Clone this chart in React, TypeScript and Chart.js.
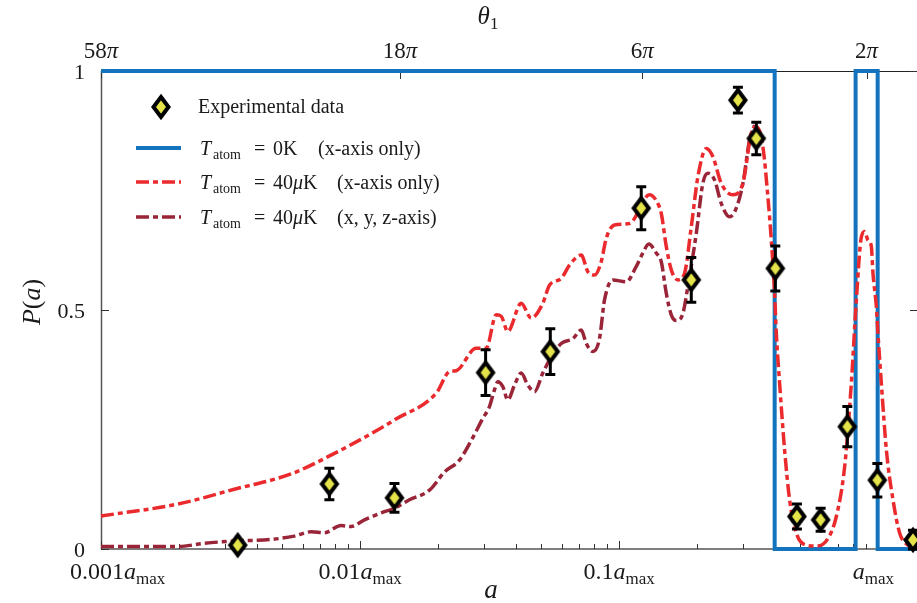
import React, { useEffect, useRef } from 'react';
import { Chart, registerables } from 'chart.js';
Chart.register(...registerables);

// ---------- data ----------
const expA = [0.00337, 0.00761, 0.01357, 0.0305, 0.0542, 0.1216, 0.1897, 0.2871, 0.3381, 0.4003, 0.4851, 0.5987, 0.7591, 0.9911, 1.36];
const expP = [0.008, 0.136, 0.107, 0.369, 0.413, 0.713, 0.563, 0.939, 0.859, 0.587, 0.068, 0.061, 0.256, 0.144, 0.019];
const expErr = [0.006, 0.033, 0.03, 0.048, 0.048, 0.045, 0.047, 0.027, 0.034, 0.047, 0.026, 0.024, 0.042, 0.035, 0.02];

const redA = [0.001, 0.00198, 0.00327, 0.00541, 0.00796, 0.01205, 0.01357, 0.01966, 0.02212, 0.02348, 0.02805, 0.03066, 0.03351, 0.03503, 0.03715, 0.04184, 0.04573, 0.0507, 0.05381, 0.05972, 0.06428, 0.07135, 0.07566, 0.08028, 0.08521, 0.08909, 0.09593, 0.1096, 0.1309, 0.1409, 0.1453, 0.1519, 0.1588, 0.1684, 0.1787, 0.1897, 0.2012, 0.2168, 0.2298, 0.2476, 0.2745, 0.3001, 0.3234, 0.3381, 0.3584, 0.3747, 0.3863, 0.3978, 0.4039, 0.4159, 0.4348, 0.4545, 0.4825, 0.5272, 0.5763, 0.6389, 0.6883, 0.7412, 0.7866, 0.8226, 0.86, 0.8855, 0.9118, 0.9397, 0.9533, 0.9825, 0.9965, 1.027, 1.074, 1.139, 1.209, 1.302, 1.406];
const redP = [0.069, 0.094, 0.125, 0.157, 0.2, 0.253, 0.27, 0.326, 0.371, 0.373, 0.42, 0.42, 0.49, 0.487, 0.455, 0.514, 0.483, 0.514, 0.552, 0.566, 0.594, 0.615, 0.58, 0.573, 0.601, 0.65, 0.678, 0.681, 0.741, 0.723, 0.702, 0.633, 0.584, 0.563, 0.577, 0.674, 0.779, 0.838, 0.821, 0.765, 0.741, 0.765, 0.87, 0.884, 0.842, 0.737, 0.646, 0.535, 0.451, 0.347, 0.207, 0.103, 0.033, 0.008, 0.006, 0.022, 0.068, 0.172, 0.347, 0.521, 0.653, 0.664, 0.646, 0.633, 0.577, 0.507, 0.451, 0.347, 0.207, 0.103, 0.033, 0.008, 0.003];

const darkA = [0.001, 0.00198, 0.002505, 0.003368, 0.004533, 0.005575, 0.006468, 0.007282, 0.008445, 0.009232, 0.01039, 0.01241, 0.01357, 0.0155, 0.01852, 0.02117, 0.02417, 0.0269, 0.02974, 0.03157, 0.033, 0.03399, 0.03553, 0.03715, 0.03943, 0.04184, 0.04437, 0.0471, 0.0507, 0.05381, 0.05972, 0.0662, 0.07135, 0.07459, 0.07909, 0.08392, 0.08774, 0.09446, 0.1064, 0.1163, 0.1233, 0.1301, 0.139, 0.1453, 0.1519, 0.1588, 0.1661, 0.1761, 0.184, 0.1983, 0.2102, 0.2199, 0.2333, 0.2476, 0.2667, 0.2829, 0.3001, 0.3185, 0.333];
const darkP = [0.005, 0.005, 0.012, 0.017, 0.02, 0.027, 0.036, 0.034, 0.049, 0.047, 0.061, 0.078, 0.085, 0.103, 0.123, 0.161, 0.186, 0.228, 0.273, 0.298, 0.333, 0.35, 0.34, 0.312, 0.343, 0.368, 0.343, 0.329, 0.368, 0.395, 0.43, 0.44, 0.458, 0.43, 0.413, 0.44, 0.521, 0.563, 0.559, 0.591, 0.619, 0.638, 0.619, 0.601, 0.535, 0.49, 0.478, 0.493, 0.549, 0.66, 0.765, 0.786, 0.772, 0.723, 0.695, 0.713, 0.765, 0.856, 0.887];

const blueA = [0.001, 0.398, 0.398, 0.817, 0.817, 0.994, 0.994, 1.448];
const blueP = [1, 1, 0, 0, 1, 1, 0, 0];

const X_MIN = 0.001;
const X_MAX = 1.448;
const xMajorTicks = [0.001, 0.01, 0.1, 1];
const xMajorLabels = ['0.001', '0.01', '0.1', ''];
const yTicks = [0, 0.5, 1];
const yTickLabels = ['0', '0.5', '1'];
const thetaTickA = [0.001, 0.01426, 0.1227, 0.9004];
const thetaTickLabels = ['58', '18', '6', '2'];

const BLUE = '#1473bd';
const RED = '#ea2a2d';
const DARK = '#9a2538';
const DASH = [13, 4, 5, 4];
const SERIF = '"Liberation Serif", "Times New Roman", serif';
const TXT = '#1a1a1a';

function makeDiamond() {
  const c = document.createElement('canvas');
  c.width = 22;
  c.height = 30;
  const g = c.getContext('2d')!;
  g.beginPath();
  g.moveTo(11, 5);
  g.lineTo(18.5, 15);
  g.lineTo(11, 25);
  g.lineTo(3.5, 15);
  g.closePath();
  g.fillStyle = '#e4e44a';
  g.fill();
  g.lineWidth = 4;
  g.lineJoin = 'miter';
  g.strokeStyle = '#000';
  g.stroke();
  return c;
}

type Run = { t: string; f: string; dy?: number };
function runsWidth(ctx: CanvasRenderingContext2D, runs: Run[]) {
  let w = 0;
  for (const r of runs) {
    ctx.font = r.f;
    w += ctx.measureText(r.t).width;
  }
  return w;
}
function drawRuns(ctx: CanvasRenderingContext2D, runs: Run[], x: number, y: number, align: 'left' | 'center' | 'right') {
  const w = runsWidth(ctx, runs);
  let cx = align === 'center' ? x - w / 2 : align === 'right' ? x - w : x;
  ctx.textBaseline = 'alphabetic';
  ctx.textAlign = 'left';
  for (const r of runs) {
    ctx.font = r.f;
    ctx.fillText(r.t, cx, y + (r.dy || 0));
    cx += ctx.measureText(r.t).width;
  }
  return w;
}

export default function App() {
  const ref = useRef<HTMLCanvasElement>(null);
  useEffect(() => {
    const diamond = makeDiamond();
    const f = (s: number, it = false) => `${it ? 'italic ' : ''}${s}px ${SERIF}`;

    const decor = {
      id: 'decor',
      beforeDatasetsDraw(chart: any) {
        const { ctx, chartArea: ca, scales } = chart;
        const xs = scales.x, ys = scales.y;
        ctx.save();
        ctx.lineWidth = 1;
        ctx.strokeStyle = '#222';
        ctx.beginPath();
        ctx.moveTo(ca.left, ca.top + 0.5);
        ctx.lineTo(ca.right, ca.top + 0.5);
        ctx.moveTo(ca.right - 0.5, ca.top);
        ctx.lineTo(ca.right - 0.5, ca.bottom);
        ctx.stroke();
        ctx.strokeStyle = '#555';
        ctx.lineWidth = 1.5;
        ctx.beginPath();
        ctx.moveTo(ca.left + 0.5, ca.top);
        ctx.lineTo(ca.left + 0.5, ca.bottom);
        ctx.moveTo(ca.left, ca.bottom);
        ctx.lineTo(ca.right, ca.bottom);
        ctx.stroke();
        ctx.lineWidth = 1;
        ctx.strokeStyle = '#333';
        ctx.beginPath();
        for (const d of xMajorTicks) {
          for (let m = 1; m <= 9; m++) {
            const v = d * m;
            if (v > X_MAX) break;
            const px = Math.round(xs.getPixelForValue(v)) + 0.5;
            const len = m === 1 ? 8 : 5;
            ctx.moveTo(px, ca.bottom);
            ctx.lineTo(px, ca.bottom - len);
          }
        }
        for (const v of thetaTickA) {
          const px = Math.round(xs.getPixelForValue(v)) + 0.5;
          ctx.moveTo(px, ca.top);
          ctx.lineTo(px, ca.top + 8);
        }
        for (const v of yTicks) {
          const py = Math.round(ys.getPixelForValue(v)) + 0.5;
          ctx.moveTo(ca.left, py);
          ctx.lineTo(ca.left + 8, py);
          ctx.moveTo(ca.right, py);
          ctx.lineTo(ca.right - 10, py);
        }
        ctx.stroke();
        ctx.restore();
      },
      beforeDatasetDraw(chart: any, args: any) {
        if (args.index !== 0) return;
        const { ctx, scales } = chart;
        const xs = scales.x, ys = scales.y;
        ctx.save();
        ctx.strokeStyle = '#000';
        ctx.lineWidth = 3;
        ctx.beginPath();
        for (let i = 0; i < expA.length; i++) {
          const px = xs.getPixelForValue(expA[i]);
          const p1 = ys.getPixelForValue(expP[i] + expErr[i]);
          const p0 = ys.getPixelForValue(Math.max(0, expP[i] - expErr[i]));
          ctx.moveTo(px, p0);
          ctx.lineTo(px, p1);
          ctx.moveTo(px - 5, p0);
          ctx.lineTo(px + 5, p0);
          ctx.moveTo(px - 5, p1);
          ctx.lineTo(px + 5, p1);
        }
        ctx.stroke();
        ctx.restore();
      },
      afterDraw(chart: any) {
        const { ctx, chartArea: ca, scales } = chart;
        const xs = scales.x, ys = scales.y;
        ctx.save();
        ctx.fillStyle = TXT;
        for (let i = 0; i < yTicks.length; i++) {
          const py = ys.getPixelForValue(yTicks[i]);
          drawRuns(ctx, [{ t: yTickLabels[i], f: f(22) }], ca.left - 16, py + 8, 'right');
        }
        for (let i = 0; i < xMajorTicks.length; i++) {
          const px = xs.getPixelForValue(xMajorTicks[i]);
          const runs: Run[] = [];
          if (xMajorLabels[i]) runs.push({ t: xMajorLabels[i], f: f(24) });
          runs.push({ t: 'a', f: f(24, true) });
          runs.push({ t: 'max', f: f(17), dy: 5 });
          const w = runsWidth(ctx, runs);
          const left = Math.min(Math.max(px - w / 2, 70), 894 - w);
          drawRuns(ctx, runs, left, 579, 'left');
        }
        for (let i = 0; i < thetaTickA.length; i++) {
          const px = xs.getPixelForValue(thetaTickA[i]);
          drawRuns(ctx, [{ t: thetaTickLabels[i], f: f(23) }, { t: 'π', f: f(23, true) }], px, 58, 'center');
        }
        drawRuns(ctx, [{ t: 'θ', f: f(25, true) }, { t: '1', f: f(17), dy: 5 }], 488, 24, 'center');
        drawRuns(ctx, [{ t: 'a', f: f(27, true) }], 491, 598, 'center');
        ctx.save();
        ctx.translate(40, 302);
        ctx.rotate(-Math.PI / 2);
        drawRuns(ctx, [{ t: 'P', f: f(26, true) }, { t: '(', f: f(26) }, { t: 'a', f: f(26, true) }, { t: ')', f: f(26) }], 0, 0, 'center');
        ctx.restore();

        ctx.drawImage(diamond, 161 - 11, 107 - 15);
        drawRuns(ctx, [{ t: 'Experimental data', f: f(20) }], 198, 113, 'left');
        const rows = [
          { y: 148, color: BLUE, dash: [] as number[], val: '0K', note: '(x-axis only)', nx: 318 },
          { y: 182, color: RED, dash: DASH, val: '40μK', note: '(x-axis only)', nx: 337 },
          { y: 217, color: DARK, dash: DASH, val: '40μK', note: '(x, y, z-axis)', nx: 337 },
        ];
        for (const r of rows) {
          ctx.save();
          ctx.strokeStyle = r.color;
          ctx.lineWidth = r.dash.length ? 3.5 : 4;
          ctx.setLineDash(r.dash);
          ctx.beginPath();
          ctx.moveTo(136, r.y);
          ctx.lineTo(181, r.y);
          ctx.stroke();
          ctx.restore();
          const by = r.y + 7;
          drawRuns(ctx, [{ t: 'T', f: f(20, true) }], 200, by, 'left');
          drawRuns(ctx, [{ t: 'atom', f: f(14), dy: 4 }], 213, by, 'left');
          drawRuns(ctx, [{ t: '=', f: f(20) }], 254, by, 'left');
          if (r.val === '0K') {
            drawRuns(ctx, [{ t: '0K', f: f(20) }], 273, by, 'left');
          } else {
            drawRuns(ctx, [{ t: '40', f: f(20) }, { t: 'μ', f: f(20, true) }, { t: 'K', f: f(20) }], 273, by, 'left');
          }
          drawRuns(ctx, [{ t: r.note, f: f(20) }], r.nx, by, 'left');
        }
        ctx.restore();
      },
    };

    const pts = (a: number[], p: number[]) => a.map((v, i) => ({ x: v, y: p[i] }));

    const chart = new Chart(ref.current!, {
      type: 'scatter',
      data: {
        datasets: [
          {
            label: 'Experimental data',
            data: pts(expA, expP),
            pointStyle: diamond as any,
            pointRadius: 10,
            showLine: false,
            clip: false as any,
          },
          {
            label: 'T_atom = 40μK (x-axis only)',
            data: pts(redA, redP),
            showLine: true,
            pointRadius: 0,
            borderColor: RED,
            borderWidth: 3.5,
            borderDash: DASH,
            cubicInterpolationMode: 'monotone',
            clip: 4 as any,
          },
          {
            label: 'T_atom = 40μK (x, y, z-axis)',
            data: pts(darkA, darkP),
            showLine: true,
            pointRadius: 0,
            borderColor: DARK,
            borderWidth: 3.5,
            borderDash: DASH,
            cubicInterpolationMode: 'monotone',
            clip: 4 as any,
          },
          {
            label: 'T_atom = 0K (x-axis only)',
            data: pts(blueA, blueP),
            showLine: true,
            pointRadius: 0,
            borderColor: BLUE,
            borderWidth: 4,
            borderJoinStyle: 'miter',
            borderCapStyle: 'butt',
            tension: 0,
            clip: 6 as any,
          },
        ] as any,
      },
      options: {
        responsive: false,
        animation: false,
        devicePixelRatio: 1,
        events: [],
        layout: { autoPadding: false, padding: { left: 101, right: 0, top: 71, bottom: 54 } },
        scales: {
          x: { type: 'logarithmic', min: X_MIN, max: X_MAX, display: false },
          y: { type: 'linear', min: 0, max: 1, display: false },
        },
        plugins: { legend: { display: false }, tooltip: { enabled: false } },
      } as any,
      plugins: [decor],
    });
    return () => chart.destroy();
  }, []);

  return (
    <div style={{ position: 'fixed', left: 0, top: 0, width: 917, height: 603, overflow: 'hidden', background: '#fff' }}>
      <canvas ref={ref} width={920} height={603} style={{ display: 'block', width: 920, height: 603 }} />
    </div>
  );
}
